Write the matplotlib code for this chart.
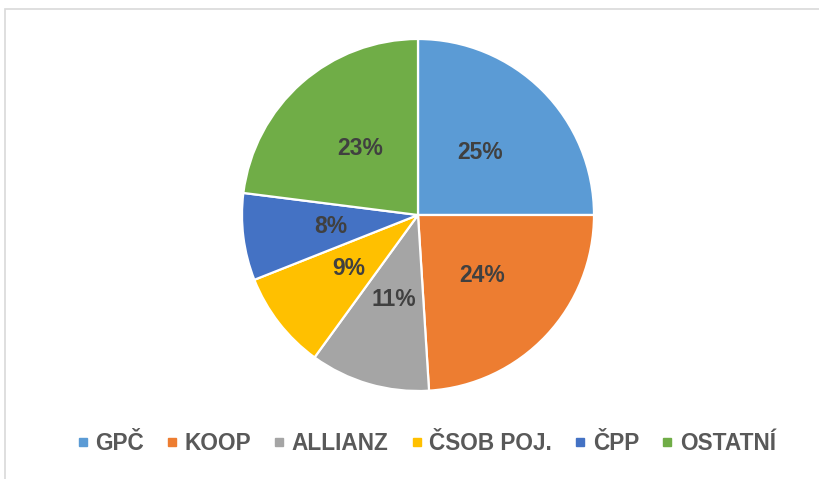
import matplotlib
matplotlib.use('Agg')
import matplotlib.pyplot as plt
from matplotlib.lines import Line2D
from matplotlib.patches import Rectangle

# Market share data
labels = ['GPČ', 'KOOP', 'ALLIANZ', 'ČSOB POJ.', 'ČPP', 'OSTATNÍ']
shares = [25, 24, 11, 9, 8, 23]
colors = ['#5B9BD5', '#ED7D31', '#A5A5A5', '#FFC000', '#4472C4', '#70AD47']

W, H = 819, 479
fig = plt.figure(figsize=(W / 100, H / 100), dpi=100)

# chart border (light gray frame, runs off right and bottom)
fig.add_artist(Rectangle((5 / W, -0.1), 2, 1 - 9 / H + 0.1, transform=fig.transFigure,
                         fill=False, edgecolor='#D9D9D9', linewidth=1.2))

cx, cy, r = 418, 215, 176
ax = fig.add_axes([(cx - r) / W, (H - cy - r) / H, 2 * r / W, 2 * r / H])
wedges, texts, autotexts = ax.pie(
    shares, colors=colors, startangle=90, counterclock=False,
    autopct='%1.0f%%', pctdistance=0.5,
    wedgeprops=dict(edgecolor='white', linewidth=1.6),
    textprops=dict(color='#404040', fontsize=16.5, fontweight='bold', family='Liberation Sans'))
ax.set_xlim(-1, 1)
ax.set_ylim(-1, 1)
ax.set_aspect('equal')

handles = [Line2D([], [], marker='s', linestyle='none', markersize=5.5,
                  markerfacecolor=c, markeredgecolor=c) for c in colors]
fig.legend(handles, labels, loc='center', bbox_to_anchor=(0.5185, 1 - 443 / H), ncol=6,
           frameon=False, handletextpad=0.15, columnspacing=0.85, handlelength=0.8,
           prop=dict(family='Liberation Sans', weight='bold', size=16.3), labelcolor='#595959')

plt.savefig('out.png', dpi=100)
